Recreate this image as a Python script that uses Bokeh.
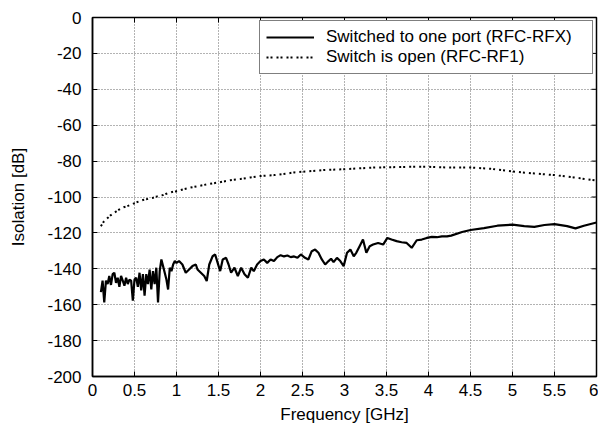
from bokeh.plotting import figure
from bokeh.models import Range1d, FixedTicker, Legend, LegendItem
from bokeh.embed import file_html
from bokeh.resources import INLINE

# ---- data ----
freq_solid = [
    0.10, 0.12, 0.14, 0.16, 0.18, 0.20, 0.22, 0.24, 0.26, 0.28,
    0.30, 0.32, 0.34, 0.36, 0.38, 0.40, 0.42, 0.44, 0.46, 0.48,
    0.50, 0.52, 0.54, 0.56, 0.58, 0.60, 0.62, 0.64, 0.66, 0.68,
    0.70, 0.72, 0.74, 0.76, 0.78, 0.80, 0.82, 0.84, 0.86, 0.88,
    0.90, 0.92, 0.94, 0.96, 0.98, 1.00, 1.03, 1.07, 1.11, 1.15,
    1.19, 1.23, 1.25, 1.29, 1.33, 1.36, 1.39, 1.43, 1.46, 1.49,
    1.52, 1.55, 1.59, 1.62, 1.65, 1.69, 1.73, 1.77, 1.81, 1.85,
    1.89, 1.92, 1.96, 2.00, 2.04, 2.08, 2.12, 2.16, 2.20, 2.24,
    2.28, 2.32, 2.36, 2.40, 2.44, 2.48, 2.53, 2.57, 2.61, 2.65,
    2.69, 2.73, 2.77, 2.81, 2.84, 2.87, 2.91, 2.95, 2.99, 3.03,
    3.07, 3.11, 3.14, 3.18, 3.22, 3.26, 3.30, 3.34, 3.40, 3.46,
    3.51, 3.56, 3.62, 3.68, 3.74, 3.80, 3.86, 3.92, 3.98, 4.04,
    4.10, 4.16, 4.22, 4.27, 4.40, 4.50, 4.66, 4.82, 5.00, 5.14,
    5.26, 5.38, 5.50, 5.65, 5.75, 5.85, 6.00,
]
iso_solid = [
    -153.0, -146.6, -158.7, -146.6, -148.5, -144.0, -149.0, -143.0, -142.2, -147.8,
    -145.0, -150.0, -144.0, -146.6, -149.4, -145.0, -148.5, -146.0, -146.6, -157.8,
    -146.0, -145.0, -150.0, -142.2, -152.0, -143.0, -155.0, -143.0, -148.5, -140.4,
    -151.5, -141.3, -148.5, -139.4, -158.7, -141.3, -134.8, -138.5, -142.2, -146.0,
    -151.5, -139.4, -141.3, -137.6, -135.7, -136.7, -135.7, -137.6, -142.2, -140.4,
    -138.5, -137.6, -140.4, -142.2, -144.0, -146.8, -137.6, -133.0, -132.0, -136.7,
    -141.3, -134.8, -133.9, -137.6, -142.2, -139.4, -144.0, -139.4, -143.0, -145.0,
    -139.4, -141.3, -137.6, -135.7, -134.8, -136.7, -134.8, -135.7, -133.5, -132.4,
    -133.1, -132.6, -133.5, -133.1, -133.9, -132.0, -133.9, -134.8, -130.2, -129.3,
    -131.1, -134.8, -137.6, -135.7, -134.4, -136.3, -133.9, -135.7, -138.5, -131.1,
    -129.3, -133.0, -131.1, -127.4, -123.7, -131.1, -127.4, -126.5, -125.6, -126.5,
    -122.8, -123.7, -124.6, -125.2, -125.6, -128.3, -124.1, -123.7, -122.8, -122.2,
    -122.4, -121.9, -121.9, -121.5, -119.5, -118.4, -117.3, -116.0, -115.4, -116.2,
    -116.6, -115.6, -115.1, -116.2, -117.5, -116.0, -114.2,
]

freq_open = [
    0.10, 0.13, 0.18, 0.21, 0.28, 0.31, 0.37, 0.41, 0.48, 0.52,
    0.60, 0.64, 0.72, 0.76, 0.84, 0.87, 0.95, 0.99, 1.08, 1.16,
    1.26, 1.38, 1.50, 1.64, 1.76, 1.88, 2.00, 2.16, 2.32, 2.40,
    2.75, 3.00, 3.35, 3.75, 4.00, 4.26, 4.50, 4.74, 5.00, 5.26,
    5.50, 5.73, 5.93, 6.00,
]
iso_open = [
    -116.3, -114.0, -111.7, -110.4, -108.1, -107.2, -105.7, -105.2, -103.9, -103.0,
    -101.7, -101.3, -100.4, -99.8, -98.9, -98.3, -97.2, -96.9, -95.7, -94.8,
    -93.9, -92.8, -91.9, -90.7, -90.0, -89.1, -88.3, -87.8, -86.9, -86.3,
    -85.0, -84.5, -83.6, -83.2, -83.2, -83.6, -83.6, -84.3, -85.8, -86.9,
    -87.8, -89.1, -90.4, -90.8,
]

x_ticks = [0, 0.5, 1, 1.5, 2, 2.5, 3, 3.5, 4, 4.5, 5, 5.5, 6]
x_tick_labels = ["0", "0.5", "1", "1.5", "2", "2.5", "3", "3.5", "4", "4.5", "5", "5.5", "6"]
y_ticks = [-200, -180, -160, -140, -120, -100, -80, -60, -40, -20, 0]
y_tick_labels = ["-200", "-180", "-160", "-140", "-120", "-100", "-80", "-60", "-40", "-20", "0"]

series_names = ["Switched to one port (RFC-RFX)", "Switch is open (RFC-RF1)"]

X_MIN, X_MAX = 0, 6
Y_MIN, Y_MAX = -200, 0

FONT = "Liberation Sans"
FS = "17px"

p = figure(
    width=598, height=427,
    x_range=Range1d(X_MIN, X_MAX), y_range=Range1d(Y_MIN, Y_MAX),
    output_backend="svg", toolbar_location=None,
    min_border_left=92, min_border_top=17, min_border_right=2, min_border_bottom=51,
    x_axis_label="Frequency [GHz]", y_axis_label="Isolation [dB]",
)
p.background_fill_color = "white"
p.border_fill_color = "white"
p.outline_line_color = "black"
p.outline_line_width = 1.5
p.outline_line_alpha = 1.0

p.xaxis.ticker = FixedTicker(ticks=x_ticks)
p.yaxis.ticker = FixedTicker(ticks=y_ticks)
p.xaxis.major_label_overrides = {t: l for t, l in zip(x_ticks, x_tick_labels)}
p.yaxis.major_label_overrides = {t: l for t, l in zip(y_ticks, y_tick_labels)}

for ax in (p.xaxis, p.yaxis):
    ax.axis_line_color = "black"
    ax.axis_line_width = 1.5
    ax.major_tick_in = 5
    ax.major_tick_out = 0
    ax.major_tick_line_color = "black"
    ax.minor_tick_line_color = None
    ax.major_label_text_font = FONT
    ax.major_label_text_font_size = FS
    ax.major_label_text_color = "black"
    ax.axis_label_text_font = FONT
    ax.axis_label_text_font_size = FS
    ax.axis_label_text_font_style = "normal"
    ax.axis_label_text_color = "black"

p.xaxis.major_label_standoff = 7
p.xaxis.axis_label_standoff = 6
p.yaxis.major_label_standoff = 11
p.yaxis.axis_label_standoff = 16

p.xgrid.ticker = FixedTicker(ticks=x_ticks)
p.ygrid.ticker = FixedTicker(ticks=y_ticks)
for g in (p.xgrid, p.ygrid):
    g.grid_line_color = "#666666"
    g.grid_line_dash = "1 2"
    g.grid_line_width = 1

# mirrored inward tick marks on the top and right frame edges
tick_dy = (Y_MAX - Y_MIN) * 5 / 359
tick_dx = (X_MAX - X_MIN) * 5 / 504
p.segment(x0=x_ticks, y0=[Y_MAX] * len(x_ticks), x1=x_ticks, y1=[Y_MAX - tick_dy] * len(x_ticks),
          line_color="black", line_width=1)
p.segment(x0=[X_MAX] * len(y_ticks), y0=y_ticks, x1=[X_MAX - tick_dx] * len(y_ticks), y1=y_ticks,
          line_color="black", line_width=1)

r_solid = p.line(freq_solid, iso_solid, line_color="black", line_width=2.2)
r_open = p.line(freq_open, iso_open, line_color="black", line_width=2, line_dash="2 2 2 4")

legend = Legend(items=[LegendItem(label=series_names[0], renderers=[r_solid]),
                       LegendItem(label=series_names[1], renderers=[r_open])],
                location="top_right")
legend.margin = 3
legend.padding = 6
legend.spacing = 0
legend.glyph_width = 48
legend.glyph_height = 18
legend.label_height = 18
legend.label_width = 260
legend.label_standoff = 12
legend.label_text_font = FONT
legend.label_text_font_size = FS
legend.label_text_color = "black"
legend.border_line_color = "black"
legend.border_line_width = 1
legend.background_fill_color = "white"
legend.background_fill_alpha = 1.0
p.add_layout(legend, "center")

open("out.html", "w").write(file_html(p, INLINE))
